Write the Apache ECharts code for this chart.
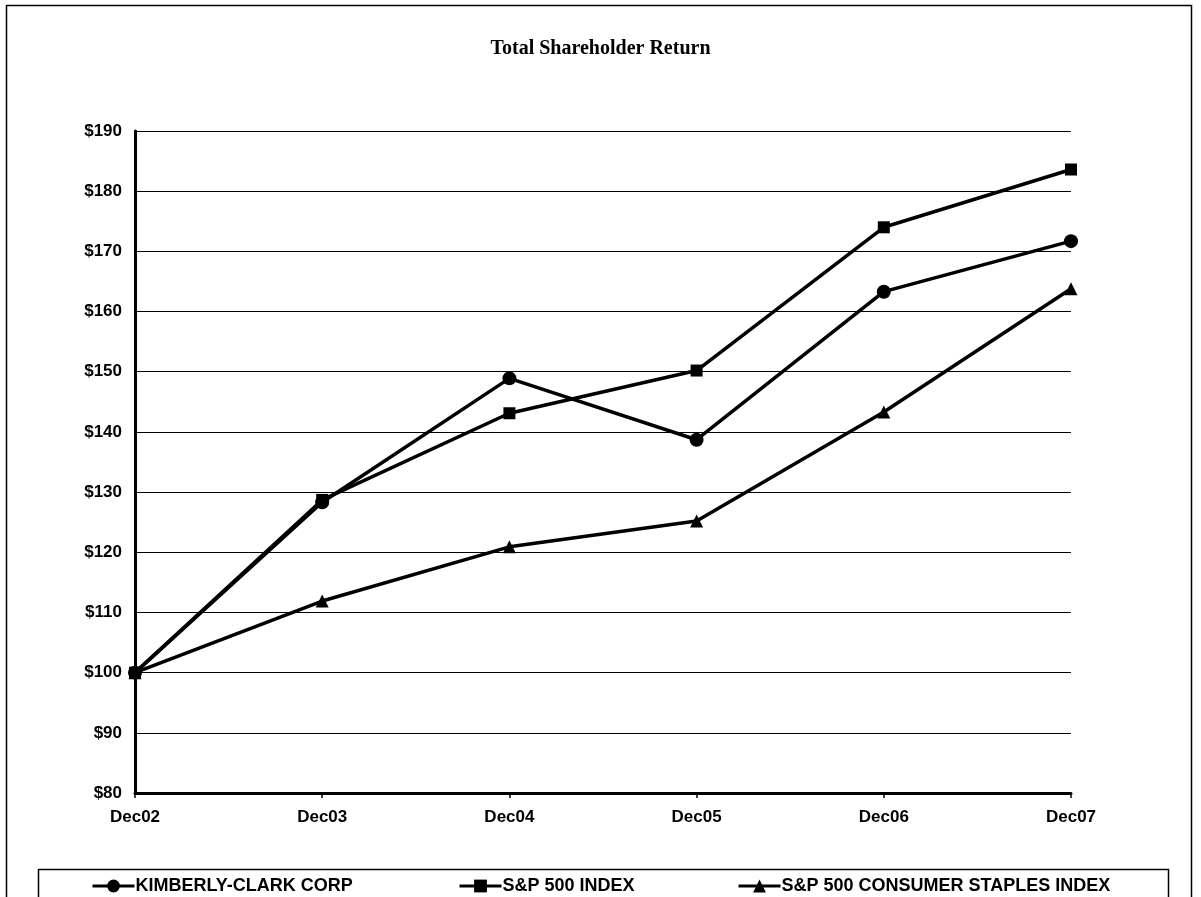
<!DOCTYPE html>
<html>
<head>
<meta charset="utf-8">
<script src="https://cdn.jsdelivr.net/npm/echarts@6/dist/echarts.min.js"></script>
<style>html,body{margin:0;padding:0;background:#fff}#c{width:1201px;height:897px}</style>
</head>
<body>
<div id="c"></div>
<script>
const categories = ['Dec02', 'Dec03', 'Dec04', 'Dec05', 'Dec06', 'Dec07'];
const kimberlyClark = [100, 128.3, 148.9, 138.7, 163.3, 171.7];
const sp500 = [100, 128.7, 143.1, 150.2, 174.0, 183.6];
const spStaples = [100, 111.9, 120.9, 125.2, 143.3, 163.8];
const seriesNames = ['KIMBERLY-CLARK CORP', 'S&P 500 INDEX', 'S&P 500 CONSUMER STAPLES INDEX'];
const yTickValues = [80, 90, 100, 110, 120, 130, 140, 150, 160, 170, 180, 190];

const chart = echarts.init(document.getElementById('c'));
const font = 'Liberation Sans, Arial, sans-serif';
const legendBase = {
  top: 872, itemWidth: 42, itemHeight: 16, itemGap: 0,
  lineStyle: { width: 3, color: '#000' },
  textStyle: { fontFamily: font, fontWeight: 'bold', fontSize: 18, color: '#000', padding: [0, 0, 0, -4] },
  inactiveColor: '#000'
};
function mkSeries(name, data, symbol, size) {
  return {
    name, type: 'line', data, symbol, symbolSize: size,
    lineStyle: { color: '#000', width: 3.5 },
    itemStyle: { color: '#000' },
    showSymbol: true, animation: false, z: 5
  };
}
chart.setOption({
  animation: false,
  backgroundColor: '#fff',
  title: {
    text: 'Total Shareholder Return', left: 'center', top: 34,
    textStyle: { fontFamily: 'Liberation Serif, Times New Roman, serif', fontWeight: 'bold', fontSize: 20, color: '#000' }
  },
  legend: [
    Object.assign({}, legendBase, { left: 86, data: [seriesNames[0]] }),
    Object.assign({}, legendBase, { left: 453, data: [seriesNames[1]] }),
    Object.assign({}, legendBase, { left: 732, data: [seriesNames[2]] })
  ],
  grid: { left: 135, right: 130, top: 131, bottom: 104, containLabel: false },
  xAxis: {
    type: 'category', data: categories, boundaryGap: false,
    axisLine: { lineStyle: { color: '#000', width: 3 } },
    axisTick: { show: true, length: 5, lineStyle: { color: '#000', width: 1.5 } },
    axisLabel: { fontFamily: font, fontWeight: 'bold', fontSize: 17, color: '#000', margin: 16 },
    splitLine: { show: false }
  },
  yAxis: {
    type: 'value', min: 80, max: 190, interval: 10,
    axisLine: { show: true, lineStyle: { color: '#000', width: 3 } },
    axisTick: { show: false },
    axisLabel: { fontFamily: font, fontWeight: 'bold', fontSize: 17, color: '#000', margin: 13,
      formatter: v => yTickValues.includes(v) ? '$' + v : '' },
    splitLine: { show: true, lineStyle: { color: '#000', width: 1.2 } }
  },
  series: [
    mkSeries(seriesNames[0], kimberlyClark, 'circle', 14),
    mkSeries(seriesNames[1], sp500, 'rect', 12),
    mkSeries(seriesNames[2], spStaples, 'triangle', 13)
  ],
  graphic: [
    { type: 'rect', shape: { x: 6.5, y: 5.5, width: 1185, height: 900 }, style: { fill: 'none', stroke: '#000', lineWidth: 1.5 }, silent: true },
    { type: 'rect', shape: { x: 38.5, y: 869.5, width: 1130, height: 40 }, style: { fill: 'none', stroke: '#000', lineWidth: 1.5 }, silent: true }
  ]
});
</script>
</body>
</html>
